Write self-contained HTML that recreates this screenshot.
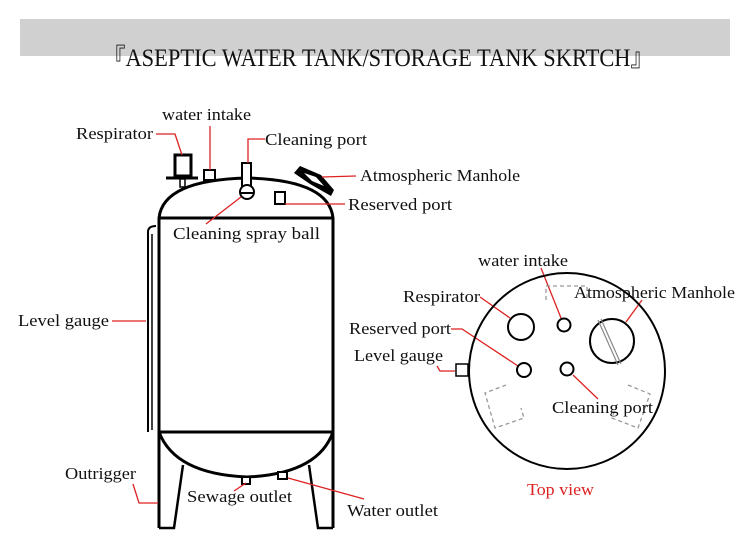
<!DOCTYPE html>
<html><head><meta charset="utf-8"><style>
html,body{margin:0;padding:0;background:#fff;}
svg{display:block;}
text{font-family:"Liberation Serif",serif;font-size:17px;fill:#111;}
</style></head><body>
<svg width="750" height="543" viewBox="0 0 750 543" xmlns="http://www.w3.org/2000/svg">
<rect x="20" y="19" width="710" height="37" fill="#d0d0d0"/>
<text x="103" y="66" style="font-size:25px" textLength="550" lengthAdjust="spacingAndGlyphs">『ASEPTIC WATER TANK/STORAGE TANK SKRTCH』</text>

<g fill="none" stroke="#000" stroke-width="3">
<!-- tank -->
<path d="M159,528 L159,218 Q163,180 247,178 Q329,180 333,218 L333,528"/>
<line x1="159" y1="218" x2="333" y2="218"/>
<line x1="159" y1="432" x2="333" y2="432"/>
<path d="M159,432 Q175,474 247,477 Q318,474 333,432"/>
<path d="M159,528 L174,528 L183,465" stroke-width="2.5"/>
<path d="M333,528 L318,528 L309,465" stroke-width="2.5"/>
</g>
<g fill="#fff" stroke="#000" stroke-width="2">
<rect x="242" y="477" width="8" height="7"/>
<rect x="278" y="472" width="9" height="7"/>
<!-- level gauge -->
<path d="M148,432 L148,232 Q148,226 156,226" fill="none"/>
<path d="M152,430 L152,234" fill="none" stroke-width="1.5"/>
<!-- respirator -->
<rect x="175" y="155" width="16" height="21" stroke-width="3"/>
<line x1="166" y1="178" x2="198" y2="178" stroke-width="3"/>
<rect x="180" y="179" width="5" height="8" stroke-width="1.5"/>
<rect x="204" y="170" width="11" height="10"/>
<rect x="242" y="163" width="9" height="24"/>
<circle cx="247" cy="192" r="7"/>
<line x1="241" y1="193" x2="253" y2="193"/>
<rect x="275" y="192" width="10" height="12"/>
</g>
<!-- manhole -->
<polygon points="294,173 300,166 321,175 334,190 331,196 310,184" fill="#000"/>
<polygon points="304,173 316,177 324,186 312,181" fill="#fff"/>

<g fill="none" stroke="#d22" stroke-width="1.3">
<path d="M210,126 L210,170"/>
<path d="M156,134 L175,134 L182,155"/>
<path d="M265,139 L248,139 L248,163"/>
<path d="M322,177 L356,176"/>
<path d="M285,204 L345,204"/>
<path d="M206,224 L241,197"/>
<path d="M112,321 L146,321"/>
<path d="M133,484 L139,503 L158,503"/>
<path d="M234,491 L246,483"/>
<path d="M288,478 L364,499"/>
<!-- top view -->
<path d="M541,268 L561,318"/>
<path d="M480,297 L510,318"/>
<path d="M451,329 L462,329 L518,366"/>
<path d="M437,366 L440,371 L455,371"/>
<path d="M642,300 L626,322"/>
<path d="M573,375 L598,399"/>
</g>

<text x="162" y="120" textLength="89" lengthAdjust="spacingAndGlyphs">water intake</text>
<text x="76" y="139" textLength="77" lengthAdjust="spacingAndGlyphs">Respirator</text>
<text x="265" y="145" textLength="102" lengthAdjust="spacingAndGlyphs">Cleaning port</text>
<text x="360" y="181" textLength="160" lengthAdjust="spacingAndGlyphs">Atmospheric Manhole</text>
<text x="348" y="210" textLength="104" lengthAdjust="spacingAndGlyphs">Reserved port</text>
<text x="173" y="239" textLength="147" lengthAdjust="spacingAndGlyphs">Cleaning spray ball</text>
<text x="18" y="326" textLength="91" lengthAdjust="spacingAndGlyphs">Level gauge</text>
<text x="65" y="479" textLength="71" lengthAdjust="spacingAndGlyphs">Outrigger</text>
<text x="187" y="502" textLength="105" lengthAdjust="spacingAndGlyphs">Sewage outlet</text>
<text x="347" y="516" textLength="91" lengthAdjust="spacingAndGlyphs">Water outlet</text>

<!-- top view -->
<g fill="none" stroke="#000" stroke-width="2">
<circle cx="567" cy="371" r="98"/>
<circle cx="521" cy="327" r="13"/>
<circle cx="564" cy="325" r="6.5"/>
<circle cx="612" cy="341" r="22"/>
<circle cx="524" cy="370" r="7"/>
<circle cx="567" cy="369" r="6.5"/>
<rect x="456" y="364" width="12" height="12" stroke-width="1.5"/>
</g>
<g stroke="#888" stroke-width="1.2" fill="none">
<line x1="601" y1="319" x2="621" y2="364"/>
<line x1="598" y1="320" x2="618" y2="365"/>
</g>
<g fill="none" stroke="#999" stroke-width="1.3" stroke-dasharray="4,3">
<path d="M546,300 L546,286 L587,286 L587,298"/>
<path d="M506,385 L485,393 L495,428 L524,418 L521,408"/>
<path d="M628,385 L650,394 L638,428 L612,418 L616,407"/>
</g>
<text x="478" y="266" textLength="90" lengthAdjust="spacingAndGlyphs">water intake</text>
<text x="403" y="302" textLength="77" lengthAdjust="spacingAndGlyphs">Respirator</text>
<text x="574" y="298" textLength="161" lengthAdjust="spacingAndGlyphs">Atmospheric Manhole</text>
<text x="349" y="334" textLength="102" lengthAdjust="spacingAndGlyphs">Reserved port</text>
<text x="354" y="361" textLength="89" lengthAdjust="spacingAndGlyphs">Level gauge</text>
<text x="552" y="413" textLength="101" lengthAdjust="spacingAndGlyphs">Cleaning port</text>
<text x="527" y="495" textLength="67" lengthAdjust="spacingAndGlyphs" style="fill:#d22">Top view</text>
</svg>
</body></html>
